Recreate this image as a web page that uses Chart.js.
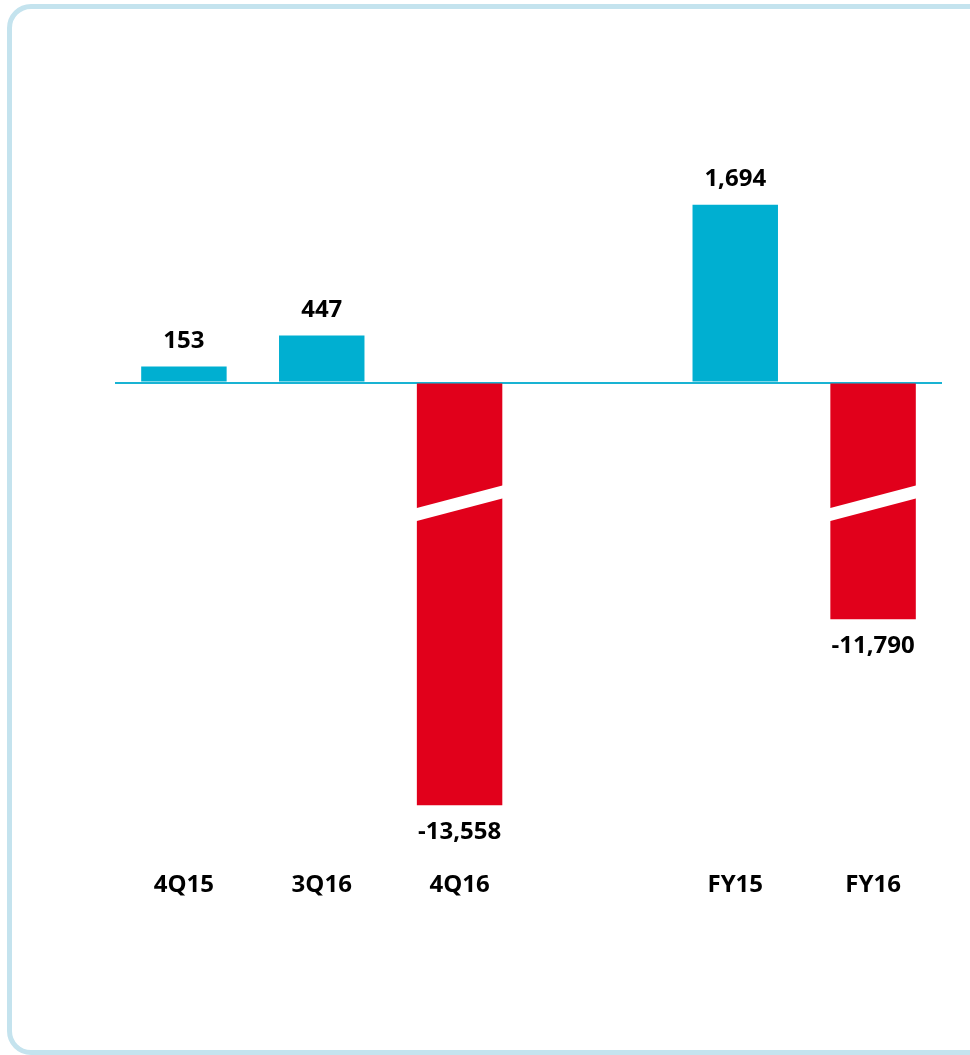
<!DOCTYPE html>
<html>
<head>
<meta charset="utf-8">
<script src="https://cdn.jsdelivr.net/npm/chart.js@4.4.0/dist/chart.umd.min.js"></script>
<style>
  html, body { margin: 0; padding: 0; background: #fff; overflow: hidden; }
  #frame {
    position: absolute; left: 7px; top: 4px; width: 1000px; height: 1041px;
    border: 5px solid #c4e3ee; border-radius: 24px;
  }
  #wrap { position: absolute; left: 0; top: 0; width: 970px; height: 1055px; }
</style>
</head>
<body>
<div id="frame"></div>
<div id="wrap"><canvas id="myChart" width="970" height="1055"></canvas></div>
<script>
// categories (empty slot separates quarters from full years)
var categories = ["4Q15", "3Q16", "4Q16", "", "FY15", "FY16"];
// real values, shown as labels
var actualValues = [153, 447, -13558, null, 1694, -11790];
// heights as drawn on the broken axis
var drawnValues = [153, 447, -4025, null, 1694, -2255];
// bars that carry an axis break
var hasBreak = [false, false, true, false, false, true];
var breakAt = -1150;

var blue = "#00afd1";
var red = "#e1001b";

var barColors = [];
for (var i = 0; i < drawnValues.length; i++) {
    barColors.push(drawnValues[i] < 0 ? red : blue);
}

var labelFont = "bold 24px 'Open Sans'";

// white slanted band across the broken bars + value labels
var extrasPlugin = {
    id: "extras",
    afterDatasetsDraw: function(chart) {
        var ctx = chart.ctx;
        var meta = chart.getDatasetMeta(0);
        var yScale = chart.scales.y;
        ctx.save();
        for (var i = 0; i < meta.data.length; i++) {
            var bar = meta.data[i];
            if (drawnValues[i] === null) continue;
            var half = bar.width / 2;
            var L = bar.x - half - 1, R = bar.x + half + 1;
            if (hasBreak[i]) {
                var mid = yScale.getPixelForValue(breakAt);
                ctx.fillStyle = "#ffffff";
                ctx.beginPath();
                ctx.moveTo(L, mid + 11.5 - 6.5);
                ctx.lineTo(R, mid - 11.5 - 6.5);
                ctx.lineTo(R, mid - 11.5 + 6.5);
                ctx.lineTo(L, mid + 11.5 + 6.5);
                ctx.closePath();
                ctx.fill();
            }
            ctx.fillStyle = "#000000";
            ctx.font = labelFont;
            ctx.textAlign = "center";
            ctx.textBaseline = "middle";
            var txt = actualValues[i].toLocaleString("en-US");
            if (drawnValues[i] >= 0) {
                ctx.fillText(txt, bar.x, bar.y - 25);
            } else {
                ctx.fillText(txt, bar.x, bar.y + 27);
            }
        }
        ctx.restore();
    }
};

var myChart = new Chart("myChart", {
    type: "bar",
    data: {
        labels: categories,
        datasets: [{
            data: drawnValues,
            backgroundColor: barColors,
            borderWidth: 0,
            barPercentage: 0.62,
            categoryPercentage: 1.0
        }]
    },
    options: {
        responsive: false,
        animation: false,
        events: [],
        layout: { padding: { left: 115, right: 28, top: 99, bottom: 150 } },
        plugins: { legend: { display: false }, tooltip: { enabled: false } },
        scales: {
            x: {
                grid: { display: false },
                border: { display: false },
                ticks: {
                    color: "#000",
                    padding: 5,
                    font: { family: "'Open Sans'", size: 24, weight: "bold" }
                }
            },
            y: {
                min: -4530,
                max: 2700,
                display: true,
                border: { display: false },
                ticks: { display: false },
                grid: {
                    drawTicks: false,
                    lineWidth: 2,
                    color: function(c) { return c.tick && c.tick.value === 0 ? "#19b3d3" : "rgba(0,0,0,0)"; }
                },
                afterBuildTicks: function(scale) {
                    scale.ticks = [{ value: 0 }];
                }
            }
        }
    },
    plugins: [extrasPlugin]
});
</script>
</body>
</html>
